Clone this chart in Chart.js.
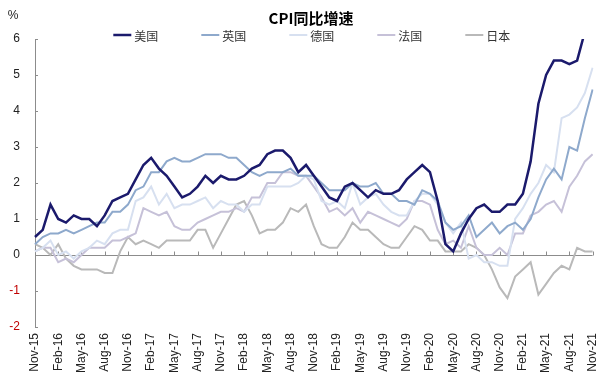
<!DOCTYPE html>
<html>
<head>
<meta charset="utf-8">
<script src="https://cdn.jsdelivr.net/npm/chart.js@4.4.1/dist/chart.umd.min.js"></script>
<style>
  html, body { margin: 0; padding: 0; background: #ffffff; }
  #wrap { width: 613px; height: 384px; position: relative; }
</style>
</head>
<body>
<div id="wrap"><canvas id="c"></canvas></div>
<script>
// ---- data ----
const chartTitle = 'CPI同比增速';
const unitLabel = '%';
const months = [
  'Nov-15','Dec-15',
  'Jan-16','Feb-16','Mar-16','Apr-16','May-16','Jun-16','Jul-16','Aug-16','Sep-16','Oct-16','Nov-16','Dec-16',
  'Jan-17','Feb-17','Mar-17','Apr-17','May-17','Jun-17','Jul-17','Aug-17','Sep-17','Oct-17','Nov-17','Dec-17',
  'Jan-18','Feb-18','Mar-18','Apr-18','May-18','Jun-18','Jul-18','Aug-18','Sep-18','Oct-18','Nov-18','Dec-18',
  'Jan-19','Feb-19','Mar-19','Apr-19','May-19','Jun-19','Jul-19','Aug-19','Sep-19','Oct-19','Nov-19','Dec-19',
  'Jan-20','Feb-20','Mar-20','Apr-20','May-20','Jun-20','Jul-20','Aug-20','Sep-20','Oct-20','Nov-20','Dec-20',
  'Jan-21','Feb-21','Mar-21','Apr-21','May-21','Jun-21','Jul-21','Aug-21','Sep-21','Oct-21','Nov-21'
];
const seriesNames = ['美国', '英国', '德国', '法国', '日本'];
const usValues = [0.5,0.7, 1.4,1.0,0.9,1.1,1.0,1.0,0.8,1.1,1.5,1.6,1.7,2.1, 2.5,2.7,2.4,2.2,1.9,1.6,1.7,1.9,2.2,2.0,2.2,2.1, 2.1,2.2,2.4,2.5,2.8,2.9,2.9,2.7,2.3,2.5,2.2,1.9, 1.6,1.5,1.9,2.0,1.8,1.6,1.8,1.7,1.7,1.8,2.1,2.3, 2.5,2.3,1.5,0.3,0.1,0.6,1.0,1.3,1.4,1.2,1.2,1.4, 1.4,1.7,2.6,4.2,5.0,5.4,5.4,5.3,5.4,6.2,null];
const ukValues = [0.3,0.5, 0.6,0.6,0.7,0.6,0.7,0.8,0.9,0.9,1.2,1.2,1.4,1.8, 1.9,2.3,2.3,2.6,2.7,2.6,2.6,2.7,2.8,2.8,2.8,2.7, 2.7,2.5,2.3,2.2,2.3,2.3,2.3,2.4,2.2,2.2,2.2,2.0, 1.8,1.8,1.8,2.0,1.9,1.9,2.0,1.7,1.7,1.5,1.5,1.4, 1.8,1.7,1.5,0.9,0.7,0.8,1.1,0.5,0.7,0.9,0.6,0.8, 0.9,0.7,1.0,1.6,2.1,2.4,2.1,3.0,2.9,3.8,4.6];
const deValues = [0.1,0.2, 0.4,0.0,0.1,-0.1,0.1,0.2,0.4,0.3,0.6,0.7,0.7,1.5, 1.6,1.9,1.4,1.7,1.3,1.4,1.4,1.5,1.6,1.3,1.5,1.4, 1.4,1.2,1.4,1.4,1.9,1.9,1.9,1.9,2.0,2.2,2.1,1.5, 1.4,1.5,1.3,2.0,1.4,1.6,1.7,1.4,1.2,1.1,1.1,1.5, 1.7,1.7,1.4,0.9,0.6,0.9,-0.1,0.0,-0.2,-0.2,-0.3,-0.3, 1.0,1.3,1.7,2.0,2.5,2.3,3.8,3.9,4.1,4.5,5.2];
const frValues = [0.1,0.2, 0.2,-0.2,-0.1,-0.2,0.0,0.2,0.2,0.2,0.4,0.4,0.5,0.6, 1.3,1.2,1.1,1.2,0.8,0.7,0.7,0.9,1.0,1.1,1.2,1.2, 1.3,1.2,1.6,1.6,2.0,2.0,2.3,2.3,2.2,2.2,1.9,1.6, 1.2,1.3,1.1,1.3,0.9,1.2,1.1,1.0,0.9,0.8,1.0,1.5, 1.5,1.4,0.7,0.3,0.4,0.2,0.8,0.2,0.0,0.0,0.2,0.0, 0.6,0.6,1.1,1.2,1.4,1.5,1.2,1.9,2.2,2.6,2.8];
const jpValues = [0.3,0.2, 0.0,0.3,-0.1,-0.3,-0.4,-0.4,-0.4,-0.5,-0.5,0.1,0.5,0.3, 0.4,0.3,0.2,0.4,0.4,0.4,0.4,0.7,0.7,0.2,0.6,1.0, 1.4,1.5,1.1,0.6,0.7,0.7,0.9,1.3,1.2,1.4,0.8,0.3, 0.2,0.2,0.5,0.9,0.7,0.7,0.5,0.3,0.2,0.2,0.5,0.8, 0.7,0.4,0.4,0.1,0.1,0.1,0.3,0.2,0.0,-0.4,-0.9,-1.2, -0.6,-0.4,-0.2,-1.1,-0.8,-0.5,-0.3,-0.4,0.2,0.1,0.1];
const yMin = -2, yMax = 6, yStep = 1;
const labelEvery = 3;

// ---- styling ----
const FONT = '"Liberation Sans", "Noto Sans CJK SC", Arial, sans-serif';
const CJK = '"Noto Sans CJK SC", "Liberation Sans", sans-serif';
const colors = ['#1b1a6c', '#8ea9cc', '#d7e0f0', '#c6c1d8', '#b9b9b9'];
const widths = [2.5, 2, 2, 2, 2];
const allValues = [usValues, ukValues, deValues, frValues, jpValues];

const decor = {
  id: 'decor',
  beforeDatasetsDraw(chart) {
    const { ctx, chartArea: a, scales: { x, y } } = chart;
    const y0 = Math.round(y.getPixelForValue(0)) + 0.5;
    ctx.save();
    ctx.strokeStyle = '#8c8c8c';
    ctx.lineWidth = 1;
    ctx.beginPath();
    ctx.moveTo(a.left, y0);
    ctx.lineTo(a.right, y0);
    months.forEach((m, i) => {
      if (i % labelEvery === 0) {
        const px = Math.round(x.getPixelForValue(i)) + 0.5;
        ctx.moveTo(px, y0);
        ctx.lineTo(px, y0 - 4);
      }
    });
    y.ticks.forEach(t => {
      const py = Math.round(y.getPixelForValue(t.value)) + 0.5;
      ctx.moveTo(a.left, py);
      ctx.lineTo(a.left + 3, py);
    });
    ctx.stroke();
    ctx.restore();
  },
  afterDraw(chart) {
    const { ctx, chartArea: a } = chart;
    ctx.save();
    ctx.textBaseline = 'middle';
    // title
    ctx.fillStyle = '#000';
    ctx.font = 'bold 15px ' + CJK;
    ctx.textAlign = 'center';
    ctx.fillText(chartTitle, 311, 18);
    // unit label
    ctx.fillStyle = '#222';
    ctx.font = '12px ' + FONT;
    ctx.fillText(unitLabel, 13, 16);
    // legend
    const ds = chart.data.datasets;
    const spacing = 88, lineLen = 18, gap = 3, ly = 35;
    ctx.font = '12px ' + CJK;
    const lastW = lineLen + gap + ctx.measureText(ds[ds.length - 1].label).width;
    const total = spacing * (ds.length - 1) + lastW;
    const x0 = (a.left + a.right) / 2 - 2 - total / 2;
    ds.forEach((d, i) => {
      const sx = x0 + i * spacing;
      ctx.strokeStyle = d.borderColor;
      ctx.lineWidth = d.borderWidth;
      ctx.beginPath();
      ctx.moveTo(sx, ly);
      ctx.lineTo(sx + lineLen, ly);
      ctx.stroke();
      ctx.fillStyle = '#333';
      ctx.textAlign = 'left';
      ctx.fillText(d.label, sx + lineLen + gap, ly + 1);
    });
    ctx.restore();
  }
};

new Chart(document.getElementById('c'), {
  type: 'line',
  data: {
    labels: months,
    datasets: seriesNames.map((n, i) => ({
      label: n,
      data: allValues[i],
      borderColor: colors[i],
      backgroundColor: colors[i],
      borderWidth: widths[i],
      pointRadius: 0,
      tension: 0,
      fill: false,
      spanGaps: false
    }))
  },
  options: {
    responsive: true,
    maintainAspectRatio: false,
    animation: false,
    layout: { padding: { left: 0, right: 12, top: 39, bottom: 0 } },
    plugins: {
      legend: { display: false },
      tooltip: { enabled: false },
      title: { display: false }
    },
    scales: {
      x: {
        type: 'category',
        offset: false,
        grid: { display: false, drawTicks: false },
        border: { display: false },
        ticks: {
          autoSkip: false,
          maxRotation: 90,
          minRotation: 90,
          padding: 6,
          color: '#222',
          font: { family: FONT, size: 12 },
          callback: function (v, i) { return i % labelEvery === 0 ? this.getLabelForValue(v) : ''; }
        },
        afterFit: s => { s.height = 57; }
      },
      y: {
        min: yMin,
        max: yMax,
        grid: { display: false, drawTicks: false },
        border: { display: true, color: '#8c8c8c', width: 1 },
        ticks: {
          stepSize: yStep,
          padding: 15,
          font: { family: FONT, size: 12 },
          color: c => (c.tick && c.tick.value < 0) ? '#c00000' : '#222'
        },
        afterFit: s => { s.width = 35; }
      }
    }
  },
  plugins: [decor]
});
</script>
</body>
</html>
